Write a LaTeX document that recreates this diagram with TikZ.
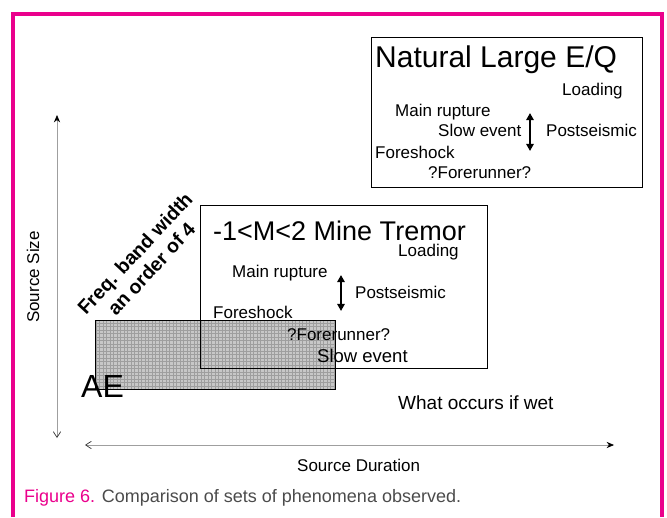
\documentclass[tikz,border=0pt]{standalone}
\usepackage{fontspec}
\setmainfont{Liberation Sans}
\usepackage{xcolor}
\usetikzlibrary{arrows.meta,positioning}
\definecolor{figmagenta}{RGB}{234,0,140}
\definecolor{capgray}{RGB}{75,75,75}
\newcommand{\fsz}[1]{\fontsize{#1}{#1}\selectfont}
\tikzset{
  figaxis/.style={draw=gray!75, line width=0.7pt},
  figtwoway/.style={{Triangle[length=2.5mm,width=2.6mm]}-{Triangle[length=2.5mm,width=2.6mm]}, line width=2pt},
  figbox/.style={draw, line width=0.9pt, inner sep=0pt},
  figtext/.style={anchor=base west, inner sep=0pt},
}

\begin{document}
\begin{tikzpicture}[
  x=1pt, y=-1pt,
  font=\fsz{17},
  aebox/.style={figbox, fill=black!22, minimum width=240pt, minimum height=69pt,
    path picture={\draw[black!38, line width=0.45pt] (path picture bounding box.south west) grid[step=3.5pt] (path picture bounding box.north east);}},
]
  \useasboundingbox (0,0) rectangle (667,517);
  \draw[figmagenta, line width=3.5pt] (13,517) -- (13,14) -- (662,14) -- (662,517);

  % axes
  \coordinate (sizetop) at (57,115);
  \coordinate (sizebot) at (57,438);
  \coordinate (durleft) at (85,445);
  \coordinate (durright) at (614,445);
  \draw[figaxis, {Straight Barb[length=2mm,width=2.6mm,black!80]}-{Stealth[length=2.6mm,width=2.2mm,black]}] (sizebot) -- (sizetop);
  \draw[figaxis, {Straight Barb[length=2mm,width=2.6mm,black!80]}-{Stealth[length=2.6mm,width=2.2mm,black]}] (durleft) -- (durright);
  \node[rotate=90] (sizelbl) at (33,277) {Source Size};
  \node[figtext] (durlbl) at (297,471) {Source Duration};

  % acoustic emission band
  \node[aebox] (ae) at (215,354.5) {};
  \node[figtext, font=\fsz{32}] (aelbl) at (81,397) {AE};
  \node[rotate=47, align=center, font=\fsz{19.5}\bfseries] (bandlbl) at (143,261)
    {Freq. band width\\[3pt]an order of 4};

  % mine tremor
  \node[figbox, minimum width=287pt, minimum height=163pt] (mine) at (343.5,286.5) {};
  \node[figtext, font=\fsz{27}] (minetitle) at (213,240) {-1<M<2 Mine Tremor};
  \node[figtext] (mineload) at (398,256) {Loading};
  \node[figtext] (minemain) at (232,277) {Main rupture};
  \node[figtext] (minepost) at (355,298) {Postseismic};
  \node[figtext] (minefore) at (213,318) {Foreshock};
  \node[figtext] (minerun) at (287,340) {?Forerunner?};
  \node[figtext, font=\fsz{18.5}] (mineslow) at (317,362) {Slow event};
  \coordinate (mineup) at (341,275);
  \coordinate (minedown) at (341,311);
  \draw[figtwoway] (mineup) -- (minedown);

  % natural earthquake
  \node[figbox, minimum width=271pt, minimum height=150pt] (nat) at (506.5,112) {};
  \node[figtext, font=\fsz{30}] (nattitle) at (375,67) {Natural Large E/Q};
  \node[figtext] (natload) at (562,95) {Loading};
  \node[figtext] (natmain) at (395,116) {Main rupture};
  \node[figtext] (natslow) at (438,136) {Slow event};
  \node[figtext] (natpost) at (546,136) {Postseismic};
  \node[figtext] (natfore) at (375,158) {Foreshock};
  \node[figtext] (natrun) at (428,178) {?Forerunner?};
  \coordinate (natup) at (530,113);
  \coordinate (natdown) at (530,151);
  \draw[figtwoway] (natup) -- (natdown);

  \node[figtext, font=\fsz{19}] (wet) at (398,409) {What occurs if wet};

  \node[figtext, font=\fsz{18}, text=capgray] (caption) at (24,502)
    {\textcolor{figmagenta}{Figure 6.} Comparison of sets of phenomena observed.};
\end{tikzpicture}
\end{document}
